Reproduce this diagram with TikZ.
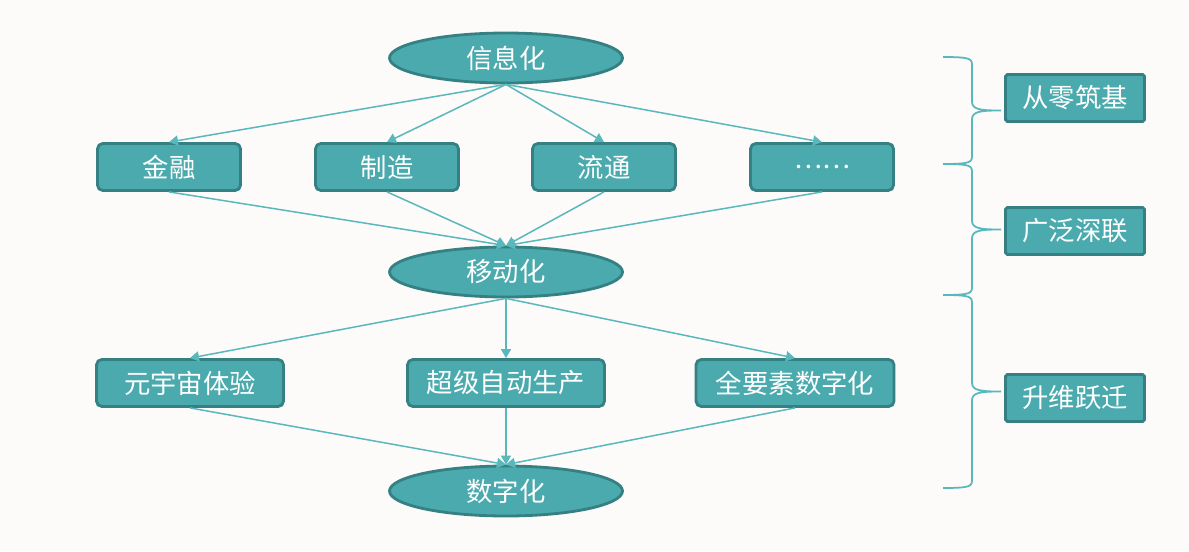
\documentclass[tikz,border=0pt]{standalone}
\usepackage{fontspec}
\newfontfamily\cjk{Noto Sans CJK SC}
\usepackage{tikz}
\usetikzlibrary{
  shapes.geometric, arrows.meta, positioning
}
\definecolor{tealfill}{RGB}{75,170,173}
\definecolor{tealedge}{RGB}{52,128,130}
\definecolor{tealline}{RGB}{88,184,187}
\definecolor{pagebg}{RGB}{253,250,250}
\tikzset{
  stageoval/.style={
    ellipse, draw=tealedge, line width=1.6pt, fill=tealfill,
    minimum width=4.66cm, minimum height=1.0cm, inner sep=0pt,
    font=\cjk\fontsize{15}{18}\selectfont, text=white
  },
  fieldbox/.style={
    draw=tealedge, rounded corners=3pt, line width=1.6pt, fill=tealfill,
    minimum height=0.94cm, minimum width=2.86cm, inner sep=0pt,
    font=\cjk\fontsize{15}{18}\selectfont, text=white
  },
  phasebox/.style={
    draw=tealedge, rounded corners=1pt, line width=1.6pt, fill=tealfill,
    minimum height=0.94cm, minimum width=2.78cm, inner sep=0pt,
    font=\cjk\fontsize{15}{18}\selectfont, text=white
  },
  flowarrow/.style={
    -{Triangle[length=1.8mm, width=2mm]}, line width=0.85pt, color=tealline
  },
  phasebrace/.style={
    line width=1pt, color=tealline
  },
}

\begin{document}
\begin{tikzpicture}[x=0.02cm, y=-0.02cm]
  % Page
  \fill[pagebg] (0,0) rectangle (1189,551);
  \useasboundingbox (0,0) rectangle (1189,551);

  % Stages
  \node[stageoval] (info) at (506,58) {信息化};
  \node[stageoval] (mobile) at (506,272) {移动化};
  \node[stageoval] (digital) at (506,491) {数字化};

  % First row of fields
  \node[fieldbox] (fin) at (169,167) {金融};
  \node[fieldbox] (mfg) at (387,167) {制造};
  \node[fieldbox] (circ) at (604,167) {流通};
  \node[fieldbox] (more) at (822,167) {……};

  % Second row of fields
  \node[fieldbox, minimum width=3.74cm] (meta) at (190,383) {元宇宙体验};
  \node[fieldbox, minimum width=3.94cm] (auto) at (506,383) {超级自动生产};
  \node[fieldbox, minimum width=3.96cm] (allfac) at (795,383) {全要素数字化};

  % Arrows
  \foreach \f in {fin, mfg, circ, more} {
    \draw[flowarrow] (info.south) -- (\f.north);
    \draw[flowarrow] (\f.south) -- (mobile.north);
  }
  \foreach \f in {meta, auto, allfac} {
    \draw[flowarrow] (mobile.south) -- (\f.north);
    \draw[flowarrow] (\f.south) -- (digital.north);
  }

  % Phases
  \node[phasebox] (base) at (1075,98) {从零筑基};
  \node[phasebox] (link) at (1075,231) {广泛深联};
  \node[phasebox] (leap) at (1075,398) {升维跃迁};

  % Braces
  \foreach \t/\b in {57/164, 164/295, 295/488} {
    \pgfmathsetmacro\m{(\t+\b)/2}
    \draw[phasebrace] (943,\t) .. controls (972,\t) and (972,\t+2) .. (972,\t+9)
      -- (972,\m-9) .. controls (972,\m-1) and (980,\m) .. (1001,\m)
      .. controls (980,\m) and (972,\m+1) .. (972,\m+9)
      -- (972,\b-9) .. controls (972,\b-2) and (972,\b) .. (943,\b);
  }
\end{tikzpicture}
\end{document}
